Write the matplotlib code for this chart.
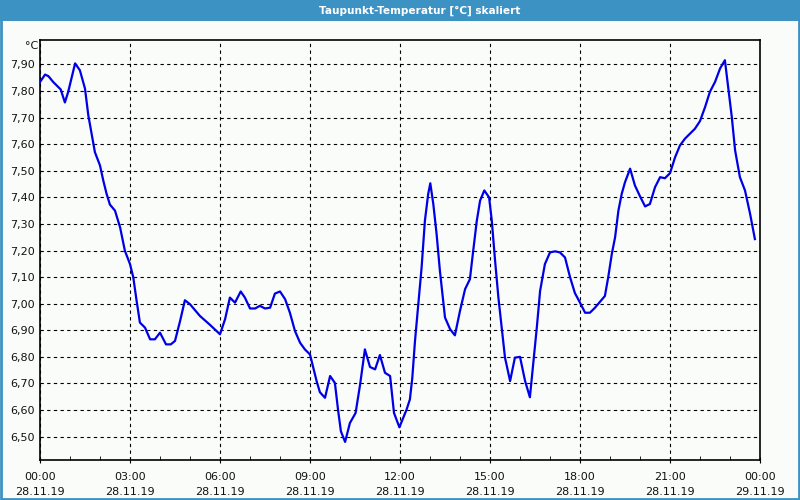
import matplotlib
matplotlib.use("Agg")
import matplotlib.pyplot as plt
from matplotlib.patches import Rectangle
from matplotlib.ticker import MultipleLocator

# hours since 28.11.19 00:00
hours = [0.0, 0.17, 0.28, 0.44, 0.61, 0.69, 0.83, 0.94, 1.06, 1.17, 1.33, 1.50,
         1.61, 1.72, 1.83, 2.00, 2.11, 2.22, 2.33, 2.50, 2.67, 2.83, 3.00, 3.11,
         3.22, 3.33, 3.50, 3.67, 3.83, 4.00, 4.20, 4.36, 4.50, 4.67, 4.83, 5.00,
         5.33, 5.67, 6.00, 6.17, 6.33, 6.50, 6.69, 6.83, 7.00, 7.17, 7.33, 7.50,
         7.67, 7.83, 8.00, 8.17, 8.33, 8.50, 8.67, 8.83, 9.00, 9.11, 9.22, 9.33,
         9.50, 9.67, 9.83, 9.94, 10.03, 10.17, 10.33, 10.52, 10.67, 10.83, 11.00,
         11.17, 11.33, 11.50, 11.67, 11.80, 11.98, 12.22, 12.33, 12.41, 12.50,
         12.61, 12.72, 12.83, 12.94, 13.01, 13.11, 13.22, 13.33, 13.50, 13.67,
         13.83, 14.00, 14.17, 14.33, 14.44, 14.56, 14.67, 14.81, 14.97, 15.06,
         15.17, 15.28, 15.39, 15.50, 15.67, 15.83, 16.00, 16.17, 16.33, 16.44,
         16.56, 16.67, 16.83, 17.00, 17.17, 17.33, 17.50, 17.67, 17.83, 18.00,
         18.17, 18.33, 18.50, 18.67, 18.83, 18.94, 19.06, 19.17, 19.28, 19.39,
         19.50, 19.67, 19.83, 20.00, 20.17, 20.33, 20.50, 20.67, 20.83, 21.00,
         21.17, 21.33, 21.50, 21.67, 21.83, 22.00, 22.17, 22.33, 22.50, 22.67,
         22.83, 22.94, 23.06, 23.17, 23.33, 23.50, 23.67, 23.83]

dewpoint = [7.834, 7.862, 7.856, 7.834, 7.815, 7.806, 7.757, 7.797, 7.853, 7.904,
            7.878, 7.809, 7.709, 7.640, 7.570, 7.520, 7.463, 7.413, 7.373, 7.350,
            7.287, 7.199, 7.149, 7.099, 7.011, 6.929, 6.910, 6.866, 6.866, 6.891,
            6.847, 6.847, 6.860, 6.935, 7.013, 6.998, 6.954, 6.920, 6.885, 6.942,
            7.023, 7.004, 7.046, 7.023, 6.982, 6.982, 6.992, 6.982, 6.985, 7.038,
            7.046, 7.017, 6.966, 6.897, 6.853, 6.828, 6.809, 6.759, 6.709, 6.667,
            6.646, 6.728, 6.702, 6.596, 6.520, 6.480, 6.551, 6.589, 6.696, 6.828,
            6.762, 6.753, 6.807, 6.740, 6.728, 6.589, 6.535, 6.602, 6.640, 6.721,
            6.860, 6.998, 7.136, 7.312, 7.413, 7.453, 7.375, 7.262, 7.124, 6.948,
            6.904, 6.881, 6.973, 7.055, 7.092, 7.199, 7.312, 7.388, 7.426, 7.400,
            7.312, 7.161, 7.023, 6.910, 6.797, 6.709, 6.797, 6.800, 6.709, 6.648,
            6.772, 6.910, 7.048, 7.149, 7.193, 7.197, 7.193, 7.174, 7.099, 7.040,
            7.004, 6.966, 6.966, 6.985, 7.008, 7.029, 7.099, 7.187, 7.250, 7.350,
            7.413, 7.457, 7.508, 7.445, 7.404, 7.366, 7.375, 7.438, 7.476, 7.472,
            7.491, 7.551, 7.595, 7.621, 7.640, 7.658, 7.687, 7.740, 7.797, 7.834,
            7.885, 7.916, 7.815, 7.702, 7.577, 7.476, 7.426, 7.338, 7.243]

x_ticks = [0, 3, 6, 9, 12, 15, 18, 21, 24]
x_labels = ["00:00\n28.11.19", "03:00\n28.11.19", "06:00\n28.11.19",
            "09:00\n28.11.19", "12:00\n28.11.19", "15:00\n28.11.19",
            "18:00\n28.11.19", "21:00\n28.11.19", "00:00\n29.11.19"]
y_ticks = [6.5, 6.6, 6.7, 6.8, 6.9, 7.0, 7.1, 7.2, 7.3, 7.4, 7.5, 7.6, 7.7, 7.8, 7.9]

bg = "#FAFCFA"
frame_blue = "#3D92C4"

fig = plt.figure(figsize=(8, 5), dpi=100, facecolor=bg)
ax = fig.add_axes([0.05, 0.08, 0.90, 0.84], facecolor=bg)

ax.plot(hours, dewpoint, color="#0000E6", linewidth=1.6, zorder=3)

ax.set_xlim(0, 24)
ax.set_ylim(6.412, 7.992)
ax.set_xticks(x_ticks)
ax.set_xticklabels(x_labels, fontsize=8, color="#111111", linespacing=1.6)
ax.xaxis.set_minor_locator(MultipleLocator(1))
ax.set_yticks(y_ticks)
ax.set_yticklabels([("%.2f" % t).replace(".", ",") for t in y_ticks],
                   fontsize=8, color="#111111")
ax.tick_params(axis="y", length=0, pad=4)
ax.tick_params(axis="x", which="major", direction="inout", length=5, pad=6)
ax.tick_params(axis="x", which="minor", direction="in", length=3)

ax.grid(True, color="black", linestyle=(0, (3, 3)), linewidth=0.8)
for s in ax.spines.values():
    s.set_color("black")
    s.set_linewidth(1.2)

fig.text(0.04, 0.908, "°C", fontsize=8, ha="center", va="center", color="#111111")

# window title bar and frame
fig.patches.append(Rectangle((0, 1 - 21 / 500), 1, 21 / 500, transform=fig.transFigure,
                             facecolor=frame_blue, edgecolor="none", zorder=0))
fig.patches.append(Rectangle((0.001, 0.002), 0.998, 0.996, transform=fig.transFigure,
                             facecolor="none", edgecolor=frame_blue, linewidth=2, zorder=1))
fig.text(0.525, 1 - 10.5 / 500, "Taupunkt-Temperatur [°C] skaliert", fontsize=7.6,
         color="white", ha="center", va="center", fontweight="bold")

fig.savefig("out.png", dpi=100, facecolor=bg)
